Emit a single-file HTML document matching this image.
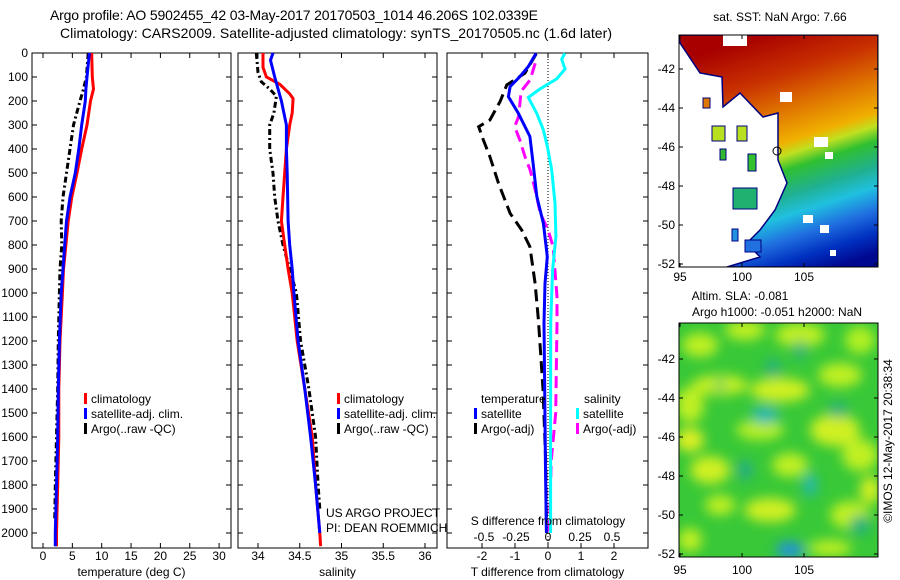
<!DOCTYPE html>
<html><head><meta charset="utf-8"><style>
html,body{margin:0;padding:0;background:#fff;}
svg{display:block;font-family:"Liberation Sans",sans-serif;}
</style></head><body>
<svg id="fig" width="900" height="580" viewBox="0 0 900 580" xmlns="http://www.w3.org/2000/svg">
<defs>
<linearGradient id="sstg" gradientUnits="userSpaceOnUse" x1="760" y1="35" x2="835" y2="267">
<stop offset="0" stop-color="#a80000"/><stop offset="0.18" stop-color="#c83000"/><stop offset="0.33" stop-color="#e07800"/><stop offset="0.45" stop-color="#f0b000"/><stop offset="0.5" stop-color="#c0e020"/><stop offset="0.56" stop-color="#30c030"/><stop offset="0.66" stop-color="#20b090"/><stop offset="0.74" stop-color="#20c0e0"/><stop offset="0.83" stop-color="#2070e0"/><stop offset="0.92" stop-color="#0030c0"/><stop offset="1" stop-color="#000890"/>
</linearGradient>
<filter id="blur" x="-50%" y="-50%" width="200%" height="200%"><feGaussianBlur stdDeviation="6"/></filter>
<clipPath id="m1c"><rect x="679" y="35" width="199" height="232"/></clipPath>
<clipPath id="m2c"><rect x="679" y="323" width="199" height="234"/></clipPath>
</defs>
<text x="294" y="20" font-size="14" text-anchor="middle" textLength="488">Argo profile: AO 5902455_42 03-May-2017 20170503_1014 46.206S 102.0339E</text>
<text x="336" y="38" font-size="14" text-anchor="middle" textLength="552">Climatology: CARS2009. Satellite-adjusted climatology: synTS_20170505.nc (1.6d later)</text>
<g id="p1"></g>
<g id="p2"></g>
<g id="p3"></g>

<g>
<text x="780" y="21" font-size="12" text-anchor="middle">sat. SST: NaN Argo: 7.66</text>
<g clip-path="url(#m1c)">
<polygon fill="url(#sstg)" stroke="#000080" stroke-width="1.5" points="679,35 878,35 878,267 727,267 760,257 747,243 760,230 775,210 787,183 778,160 778,113 763,117 740,93 723,107 722,77 700,73 680,43"/>
<rect x="723" y="35" width="24" height="11" fill="#fff"/>
<rect x="780" y="92" width="12" height="10" fill="#fff"/>
<rect x="814" y="137" width="14" height="10" fill="#fff"/>
<rect x="825" y="152" width="8" height="7" fill="#fff"/>
<rect x="820" y="225" width="9" height="8" fill="#fff"/>
<rect x="830" y="250" width="6" height="6" fill="#fff"/>
<rect x="803" y="215" width="10" height="8" fill="#fff"/>
<rect x="703" y="98" width="7" height="10" fill="#e07800" stroke="#000080"/>
<rect x="712" y="126" width="13" height="15" fill="#b8e020" stroke="#000080"/>
<rect x="737" y="126" width="10" height="15" fill="#b8e020" stroke="#000080"/>
<rect x="720" y="149" width="6" height="11" fill="#30b830" stroke="#000080"/>
<rect x="748" y="154" width="8" height="17" fill="#30c030" stroke="#000080"/>
<rect x="733" y="188" width="24" height="21" fill="#20b070" stroke="#000080"/>
<rect x="732" y="229" width="6" height="12" fill="#2090e0" stroke="#000080"/>
<rect x="745" y="240" width="16" height="12" fill="#2070e0" stroke="#000080"/>
<circle cx="777" cy="151" r="4" fill="none" stroke="#000" stroke-width="1"/>
</g>
<rect x="679" y="35" width="199" height="232" fill="none" stroke="#000" stroke-width="1"/>
<g id="m1ax"></g>
</g>

<g>
<text x="740" y="300" font-size="12" text-anchor="middle">Altim. SLA: -0.081</text>
<text x="777" y="316" font-size="12" text-anchor="middle">Argo h1000: -0.051 h2000: NaN</text>
<g clip-path="url(#m2c)">
<rect x="679" y="323" width="199" height="234" fill="#38c838"/>
<g filter="url(#blur)" id="blobs"></g>
</g>
<rect x="679" y="323" width="199" height="234" fill="none" stroke="#000" stroke-width="1"/>
<g id="m2ax"></g>
</g>
<text transform="translate(892,441) rotate(-90)" font-size="12" text-anchor="middle">©IMOS 12-May-2017 20:38:34</text>
</svg>
<script>
// depth levels (m) per series and values
const tDepth = [0,100,150,200,300,400,500,600,700,800,900,1000,1200,1400,1600,1800,2000,2055];
const tClim  = [8.3,8.4,8.6,8.1,7.5,6.6,5.8,4.9,4.3,3.9,3.5,3.3,2.9,2.7,2.7,2.5,2.3,2.3];
const tSat   = [7.9,7.5,7.3,7.2,6.6,6.1,5.5,4.6,4.0,3.7,3.4,3.1,2.8,2.6,2.5,2.3,2.1,2.1];
const tArgoDepth = [0,100,150,200,300,400,500,600,700,800,900,1000,1200,1400,1600,1800,1950];
const tArgo  = [7.7,7.4,6.9,6.3,5.2,4.6,4.0,3.4,3.1,3.2,2.9,2.8,2.6,2.5,2.3,2.1,2.0];
const sDepth = [0,60,100,130,170,190,250,300,400,500,600,700,800,900,1000,1200,1400,1600,1800,2000,2055];
const sClim  = [34.06,34.06,34.10,34.26,34.38,34.42,34.41,34.38,34.34,34.32,34.30,34.28,34.32,34.36,34.41,34.47,34.56,34.65,34.69,34.74,34.75];
const sSatDepth = [0,30,100,200,300,400,500,700,800,900,1000,1200,1400,1600,1800,2000];
const sSat   = [34.18,34.15,34.20,34.28,34.34,34.34,34.35,34.36,34.38,34.41,34.43,34.48,34.56,34.63,34.69,34.74];
const sArgoDepth = [0,80,120,150,180,250,300,400,500,600,700,800,900,1000,1200,1400,1600,1800,1900];
const sArgo  = [33.98,34.0,34.04,34.14,34.22,34.19,34.14,34.14,34.18,34.2,34.24,34.30,34.38,34.46,34.51,34.61,34.69,34.72,34.74];
const dTSatDepth = [1,57,98,140,182,251,348,460,598,710,849,960,1125,1400,1700,2000];
const dTSat  = [-0.36,-0.6,-0.85,-1.15,-1.2,-0.9,-0.55,-0.45,-0.34,-0.14,-0.02,-0.09,-0.12,-0.1,-0.08,-0.05];
const dTArgoDepth = [4,84,133,202,279,307,362,432,543,668,737,807,960,1112,1400,1700,1950];
const dTArgo = [-0.36,-0.7,-1.25,-1.45,-1.76,-2.1,-1.96,-1.76,-1.5,-1.15,-0.8,-0.55,-0.39,-0.29,-0.15,-0.07,-0.05];
const dSSatDepth = [1,26,67,108,150,185,251,320,390,487,626,765,904,1125,1500,2000];
const dSSat  = [0.133,0.107,0.133,0.068,-0.063,-0.154,-0.088,-0.037,-0.005,0.029,0.055,0.062,0.036,0.021,0.02,0.02];
const dSArgoDepth = [43,112,160,265,307,362,432,487,570,668,737,807,1015,1125,1500,1700,2000];
const dSArgo = [-0.1,-0.14,-0.21,-0.23,-0.26,-0.22,-0.18,-0.14,-0.1,-0.06,0,0.04,0.07,0.07,0.06,0.025,0.01];
const depthTicks = [0,100,200,300,400,500,600,700,800,900,1000,1100,1200,1300,1400,1500,1600,1700,1800,1900,2000];
const tTicks = [0,5,10,15,20,25,30];
const sTicks = [34,34.5,35,35.5,36];
const dTTicks = [-2,-1,0,1,2];
const dSTicks = [-0.5,-0.25,0,0.25,0.5];
const lonTicks = [95,100,105];
const latTicks = [-42,-44,-46,-48,-50,-52];

const NS='http://www.w3.org/2000/svg';
function mk(tag,attrs,parent,txt){const e=document.createElementNS(NS,tag);for(const k in attrs)e.setAttribute(k,attrs[k]);if(txt!==undefined)e.textContent=txt;parent.appendChild(e);return e;}
const yD = d => 53 + d*0.24;
const xT = v => 43 + v*5.87;
const xS = v => 258 + (v-34)*83.5;
const xDT = v => 548 + v*33;
const xDS = v => 548 + v*128;
const TOP=53, BOT=548;

function frame(g,x0,x1,ticks,fx,fmt,labelY,xlabel,leftLabels){
  const r=mk('rect',{x:x0,y:TOP,width:x1-x0,height:BOT-TOP,fill:'none',stroke:'#000','stroke-width':1},g);
  
  
  ticks.forEach(t=>{const x=fx(t);
    mk('line',{x1:x,x2:x,y1:TOP,y2:TOP+5,stroke:'#000'},g);
    mk('line',{x1:x,x2:x,y1:BOT,y2:BOT-5,stroke:'#000'},g);
    const tl=mk('text',{x:x,y:labelY,'font-size':12,'text-anchor':'middle'},g,fmt(t));
    
    
  });
  depthTicks.forEach(d=>{const y=yD(d);
    mk('line',{x1:x0,x2:x0+5,y1:y,y2:y,stroke:'#000'},g);
    mk('line',{x1:x1,x2:x1-5,y1:y,y2:y,stroke:'#000'},g);
    if(leftLabels){const l=mk('text',{x:x0-4,y:y+4,'font-size':12,'text-anchor':'end'},g,String(d));
      
      }
  });
  const xl=mk('text',{x:(x0+x1)/2,y:576,'font-size':12,'text-anchor':'middle'},g,xlabel);
  
  
}
function line(g,depths,vals,fx,color,dash,name){
  const pts=depths.map((d,i)=>fx(vals[i]).toFixed(1)+','+yD(d).toFixed(1)).join(' ');
  const p=mk('polyline',{points:pts,fill:'none',stroke:color,'stroke-width':3},g);
  if(dash)p.setAttribute('stroke-dasharray',dash);
  
  
}
function legend(g,x,y,color,label){
  mk('rect',{x:x,y:y-10,width:3,height:11,fill:color},g);
  const t=mk('text',{x:x+7,y:y,'font-size':12},g,label);
  
  
}
const p1=document.getElementById('p1'),p2=document.getElementById('p2'),p3=document.getElementById('p3');
frame(p1,32,231,tTicks,xT,t=>String(t),560,'temperature (deg C)',true);
line(p1,tArgoDepth,tArgo,xT,'#000','6,3,2,3','argo-temperature-line');
line(p1,tDepth,tClim,xT,'#f00',null,'climatology-temperature-line');
line(p1,tDepth,tSat,xT,'#00f',null,'satellite-temperature-line');
legend(p1,84,403,'#f00','climatology');legend(p1,84,418,'#00f','satellite-adj. clim.');legend(p1,84,433,'#000','Argo(..raw -QC)');

frame(p2,238,437,sTicks,xS,t=>String(t),560,'salinity',false);
line(p2,sArgoDepth,sArgo,xS,'#000','6,3,2,3','argo-salinity-line');
line(p2,sDepth,sClim,xS,'#f00',null,'climatology-salinity-line');
line(p2,sSatDepth,sSat,xS,'#00f',null,'satellite-salinity-line');
legend(p2,337,403,'#f00','climatology');legend(p2,337,418,'#00f','satellite-adj. clim.');legend(p2,337,433,'#000','Argo(..raw -QC)');
const n1=mk('text',{x:326,y:517,'font-size':12},p2,'US ARGO PROJECT');


const n2=mk('text',{x:326,y:532,'font-size':12},p2,'PI: DEAN ROEMMICH');



frame(p3,447,648,dTTicks,xDT,t=>String(t),560,'T difference from climatology',false);
mk('line',{x1:548,x2:548,y1:TOP,y2:BOT,stroke:'#000','stroke-width':1,'stroke-dasharray':'1,2'},p3);
line(p3,dTArgoDepth,dTArgo,xDT,'#000','12,6','argo-temperature-difference-line');
line(p3,dSArgoDepth,dSArgo,xDS,'#f0f','12,6','argo-salinity-difference-line');
line(p3,dSSatDepth,dSSat,xDS,'#0ff',null,'satellite-salinity-difference-line');
line(p3,dTSatDepth,dTSat,xDT,'#00f',null,'satellite-temperature-difference-line');
const lt=mk('text',{x:481,y:403,'font-size':12},p3,'temperature');


const ls=mk('text',{x:584,y:403,'font-size':12},p3,'salinity');


legend(p3,474,418,'#00f','satellite');legend(p3,474,433,'#000','Argo(-adj)');
legend(p3,576,418,'#0ff','satellite');legend(p3,576,433,'#f0f','Argo(-adj)');
const st=mk('text',{x:548,y:525,'font-size':12,'text-anchor':'middle'},p3,'S difference from climatology');


dSTicks.forEach(v=>{const t=mk('text',{x:xDS(v),y:541,'font-size':12,'text-anchor':'middle'},p3,String(v));
  
  });

// map axes
const xLon = v => 680 + (v-95)*12.4;
function mapAxes(g,top,bot,yLat,labY){
  lonTicks.forEach(v=>{const x=xLon(v);
    mk('line',{x1:x,x2:x,y1:top,y2:top+4,stroke:'#000'},g);mk('line',{x1:x,x2:x,y1:bot,y2:bot-4,stroke:'#000'},g);
    const t=mk('text',{x:x,y:labY,'font-size':12,'text-anchor':'middle'},g,String(v));
    
    });
  latTicks.forEach(v=>{const y=yLat(v);
    mk('line',{x1:679,x2:683,y1:y,y2:y,stroke:'#000'},g);mk('line',{x1:878,x2:874,y1:y,y2:y,stroke:'#000'},g);
    const t=mk('text',{x:675,y:y+4,'font-size':12,'text-anchor':'end'},g,String(v));
    
    });
}
mapAxes(document.getElementById('m1ax'),35,267,v=>69+(-42-v)*19.5,281);
mapAxes(document.getElementById('m2ax'),323,557,v=>359+(-42-v)*19.5,574);
// SLA blobs (approximate smooth field)
const blobs=document.getElementById('blobs');
[[700,345,18,12,'#c0f020'],[745,330,20,10,'#c0f020'],[800,335,25,12,'#c0f020'],[860,340,15,14,'#b0f020'],
 [720,385,28,10,'#c8f020'],[780,390,30,12,'#d0f020'],[840,375,22,12,'#c0f020'],[690,405,14,18,'#c0f020'],
 [760,430,24,10,'#b8f020'],[835,430,25,16,'#d0f020'],[690,440,14,12,'#e0f020'],[710,470,20,14,'#d0f020'],
 [790,465,18,12,'#c0f020'],[860,455,18,16,'#c0f020'],[770,510,26,12,'#d0f020'],[720,505,15,10,'#c0f020'],
 [850,515,20,14,'#c0f020'],[870,490,10,14,'#d8f020'],[690,540,12,12,'#c0f020'],[830,548,22,8,'#c0f020']
].forEach(b=>mk('ellipse',{cx:b[0],cy:b[1],rx:b[2],ry:b[3],fill:b[4]},blobs));
[[773,368,8,9,'#20b080'],[800,350,6,10,'#20b080'],[765,415,14,9,'#20b8b0'],[838,410,10,8,'#20b080'],
 [745,470,7,10,'#20a890'],[810,485,7,12,'#20b8b0'],[720,385,5,5,'#30b870'],[790,550,14,8,'#2090e0'],[860,525,10,10,'#20b080']
].forEach(b=>mk('ellipse',{cx:b[0],cy:b[1],rx:b[2],ry:b[3],fill:b[4]},blobs));
</script>
</body></html>
